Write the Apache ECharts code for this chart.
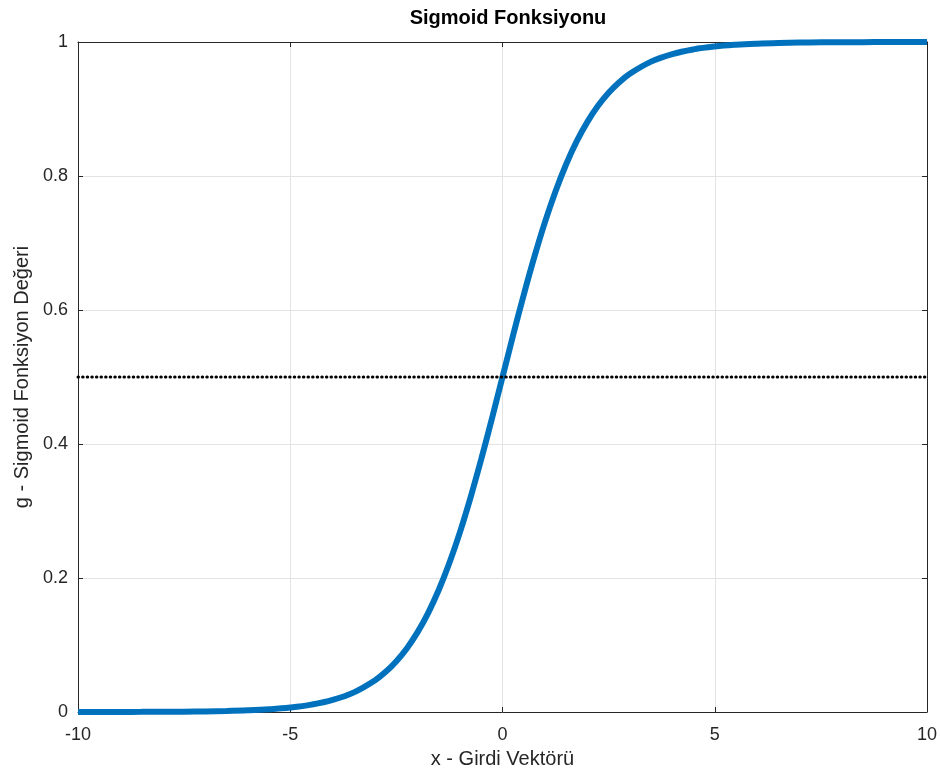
<!DOCTYPE html>
<html>
<head>
<meta charset="utf-8">
<script src="https://cdn.jsdelivr.net/npm/echarts@6/dist/echarts.min.js"></script>
<style>
html,body{margin:0;padding:0;background:#fff;}
#chart{width:941px;height:776px;}
</style>
</head>
<body>
<div id="chart"></div>
<script>
// x values (Girdi Vektörü) and sigmoid values
var xValues = [-10, -9.5, -9, -8.5, -8, -7.5, -7, -6.5, -6, -5.5, -5, -4.5, -4, -3.5, -3,
  -2.75, -2.5, -2.25, -2, -1.75, -1.5, -1.25, -1, -0.75, -0.5, -0.25, 0,
  0.25, 0.5, 0.75, 1, 1.25, 1.5, 1.75, 2, 2.25, 2.5, 2.75,
  3, 3.5, 4, 4.5, 5, 5.5, 6, 6.5, 7, 7.5, 8, 8.5, 9, 9.5, 10];
var gValues = [0.00005, 0.00007, 0.00012, 0.0002, 0.00034, 0.00055, 0.0009, 0.0015, 0.0025, 0.0041, 0.0067, 0.011, 0.018, 0.0293, 0.0474,
  0.0601, 0.0759, 0.0953, 0.1192, 0.148, 0.1824, 0.2227, 0.2689, 0.3208, 0.3775, 0.4378, 0.5,
  0.5622, 0.6225, 0.6792, 0.7311, 0.7773, 0.8176, 0.852, 0.8808, 0.9047, 0.9241, 0.9399,
  0.9526, 0.9707, 0.982, 0.989, 0.9933, 0.9959, 0.9975, 0.9985, 0.9991, 0.99945, 0.99966, 0.9998, 0.99988, 0.99993, 0.99995];
var thresholdX = [-10, 10];
var thresholdY = [0.5, 0.5];
var xTicks = {min: -10, max: 10, interval: 5};
var yTicks = {min: 0, max: 1, interval: 0.2};

var curve = xValues.map(function (x, i) { return [x, gValues[i]]; });
var thresh = thresholdX.map(function (x, i) { return [x, thresholdY[i]]; });

var axisColor = '#262626';
var fontFam = '"Liberation Sans", Arial, Helvetica, sans-serif';

var chart = echarts.init(document.getElementById('chart'), null, {renderer: 'canvas'});
chart.setOption({
  backgroundColor: '#fff',
  animation: false,
  title: {
    text: 'Sigmoid Fonksiyonu',
    left: 503,
    textAlign: 'center',
    top: 3,
    textStyle: {fontFamily: fontFam, fontWeight: 'bold', fontSize: 20, color: '#000'}
  },
  grid: {left: 78, right: 14, top: 42, bottom: 64, containLabel: false},
  xAxis: [{
    type: 'value', position: 'bottom',
    min: xTicks.min, max: xTicks.max, interval: xTicks.interval,
    name: 'x - Girdi Vektörü', nameLocation: 'middle', nameGap: 37,
    nameTextStyle: {fontFamily: fontFam, fontSize: 20, color: axisColor},
    axisLine: {show: true, onZero: false, lineStyle: {color: axisColor, width: 1}},
    axisTick: {show: true, inside: true, length: 5, lineStyle: {color: axisColor}},
    axisLabel: {fontFamily: fontFam, fontSize: 18, color: axisColor, margin: 14},
    splitLine: {show: true, lineStyle: {color: '#e3e3e3', width: 1}}
  }, {
    type: 'value', position: 'top',
    min: xTicks.min, max: xTicks.max, interval: xTicks.interval,
    axisLine: {show: true, onZero: false, lineStyle: {color: axisColor, width: 1}},
    axisTick: {show: true, inside: true, length: 5, lineStyle: {color: axisColor}},
    axisLabel: {show: false},
    splitLine: {show: false}
  }],
  yAxis: [{
    type: 'value', position: 'left',
    min: yTicks.min, max: yTicks.max, interval: yTicks.interval,
    name: 'g - Sigmoid Fonksiyon Değeri', nameLocation: 'middle', nameGap: 45,
    nameTextStyle: {fontFamily: fontFam, fontSize: 20, color: axisColor},
    axisLine: {show: true, onZero: false, lineStyle: {color: axisColor, width: 1}},
    axisTick: {show: true, inside: true, length: 5, lineStyle: {color: axisColor}},
    axisLabel: {fontFamily: fontFam, fontSize: 18, color: axisColor, margin: 10},
    splitLine: {show: true, lineStyle: {color: '#e3e3e3', width: 1}}
  }, {
    type: 'value', position: 'right',
    min: yTicks.min, max: yTicks.max, interval: yTicks.interval,
    axisLine: {show: true, onZero: false, lineStyle: {color: axisColor, width: 1}},
    axisTick: {show: true, inside: true, length: 5, lineStyle: {color: axisColor}},
    axisLabel: {show: false},
    splitLine: {show: false}
  }],
  series: [{
    type: 'line',
    data: curve,
    xAxisIndex: 0, yAxisIndex: 0,
    smooth: 0.4,
    showSymbol: false, symbol: 'none',
    clip: false,
    lineStyle: {color: '#0072BD', width: 6},
    z: 3
  }, {
    type: 'line',
    data: thresh,
    xAxisIndex: 0, yAxisIndex: 0,
    showSymbol: false, symbol: 'none',
    lineStyle: {color: '#000', width: 3, type: [0.5, 4.1], cap: 'round'},
    z: 4
  }]
});
</script>
</body>
</html>
